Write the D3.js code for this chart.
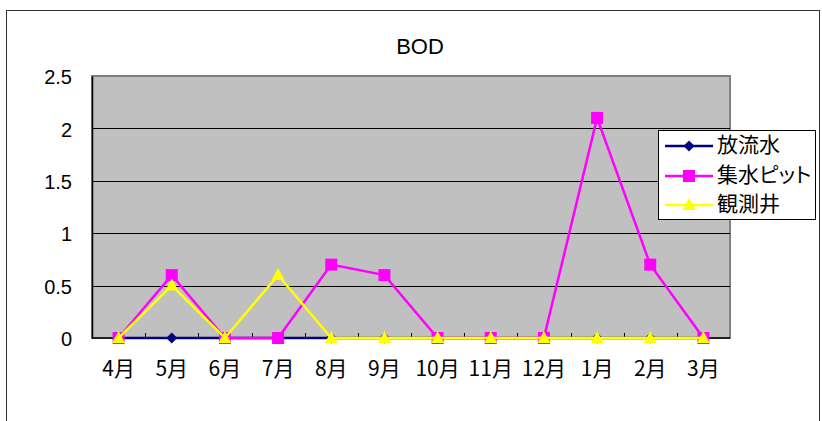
<!DOCTYPE html>
<html><head><meta charset="utf-8">
<script src="https://cdn.jsdelivr.net/npm/d3@7"></script>
<style>
html,body{margin:0;padding:0;background:#fff;}
svg{display:block;}
text{font-family:"Noto Sans CJK JP","Liberation Sans",sans-serif;fill:#000;}
.lgtext{font-feature-settings:"palt";}
</style></head>
<body>
<svg id="c" width="822" height="421"></svg>
<script>
const categories = ["4月","5月","6月","7月","8月","9月","10月","11月","12月","1月","2月","3月"];
const seriesNames = ["放流水","集水ピット","観測井"];
const houryusui = [0,0,0,0,0,0,0,0,0,0,0,0];
const shusuiPit = [0,0.6,0,0,0.7,0.6,0,0,0,2.1,0.7,0];
const kansokuSei = [0,0.5,0,0.6,0,0,0,0,0,0,0,0];
const yTicks = [0,0.5,1,1.5,2,2.5];
const titleText = "BOD";

const series = [
  {name: seriesNames[0], values: houryusui, color: "#000080", marker: "diamond"},
  {name: seriesNames[1], values: shusuiPit, color: "#ff00ff", marker: "square"},
  {name: seriesNames[2], values: kansokuSei, color: "#ffff00", marker: "triangle"}
];

const svg = d3.select("#c");
const L = 92, R = 730, T = 76, B = 338;

// outer chart border
svg.append("rect").attr("x",6.5).attr("y",10.5).attr("width",813).attr("height",440)
  .attr("fill","#fff").attr("stroke","#333").attr("stroke-width",1);

const x = d3.scaleBand().domain(categories).range([L,R]).paddingInner(0).paddingOuter(0);
const y = d3.scaleLinear().domain([0,2.5]).range([B,T]);

// plot area
svg.append("rect").attr("x",L).attr("y",T).attr("width",R-L).attr("height",B-T)
  .attr("fill","#c0c0c0").attr("stroke","#808080").attr("stroke-width",2);

// gridlines
svg.append("g").selectAll("line").data(yTicks.filter(d=>d>0 && d<2.5)).join("line")
  .attr("x1",L).attr("x2",R).attr("y1",d=>Math.round(y(d))+0.5).attr("y2",d=>Math.round(y(d))+0.5)
  .attr("stroke","#000").attr("stroke-width",1);

// y axis
const yAxis = svg.append("g").attr("transform",`translate(${L},0)`)
  .call(d3.axisLeft(y).tickValues(yTicks).tickSize(0).tickPadding(20).tickFormat(d=>d));
yAxis.select(".domain").attr("stroke","#000").attr("stroke-width",1.5);
yAxis.selectAll("text").style("font-size","20px").attr("dy","0.38em")
  .style("font-family","'Liberation Sans','Noto Sans CJK JP',sans-serif");

// x axis line
svg.append("line").attr("x1",L).attr("x2",R).attr("y1",B).attr("y2",B)
  .attr("stroke","#000").attr("stroke-width",1.5);
// x ticks (inside, between categories)
svg.append("g").selectAll("line").data(categories.slice(1)).join("line")
  .attr("x1",d=>Math.round(x(d))+0.5).attr("x2",d=>Math.round(x(d))+0.5)
  .attr("y1",B).attr("y2",B-5).attr("stroke","#000").attr("stroke-width",1);
// x labels
svg.append("g").selectAll("text").data(categories).join("text")
  .attr("x",d=>x(d)+x.bandwidth()/2).attr("y",B+38)
  .attr("text-anchor","middle").style("font-size","21px").text(d=>d);

// title
svg.append("text").attr("x",420).attr("y",54).attr("text-anchor","middle")
  .style("font-size","22px").style("font-family","'Liberation Sans',sans-serif").text(titleText);

function drawMarker(g, type, cx, cy, color){
  if(type==="diamond"){
    g.append("path").attr("d",`M${cx},${cy-5.5}L${cx+5.5},${cy}L${cx},${cy+5.5}L${cx-5.5},${cy}Z`).attr("fill",color);
  } else if(type==="square"){
    g.append("rect").attr("x",cx-6).attr("y",cy-6).attr("width",12).attr("height",12).attr("fill",color);
  } else {
    g.append("path").attr("d",`M${cx},${cy-7}L${cx+6.5},${cy+5}L${cx-6.5},${cy+5}Z`).attr("fill",color);
  }
}

const line = d3.line().x((d,i)=>x(categories[i])+x.bandwidth()/2).y(d=>y(d));
series.forEach(s=>{
  const g = svg.append("g");
  g.append("path").datum(s.values).attr("d",line).attr("fill","none")
    .attr("stroke",s.color).attr("stroke-width",2.5).attr("stroke-linejoin","miter");
  s.values.forEach((v,i)=>drawMarker(g, s.marker, x(categories[i])+x.bandwidth()/2, y(v), s.color));
});

// legend
const lg = svg.append("g");
lg.append("rect").attr("x",658.5).attr("y",130.5).attr("width",157).attr("height",89)
  .attr("fill","#fff").attr("stroke","#000").attr("stroke-width",1);
const rowsY = [146,176,205];
series.forEach((s,i)=>{
  lg.append("line").attr("x1",665).attr("x2",713).attr("y1",rowsY[i]).attr("y2",rowsY[i])
    .attr("stroke",s.color).attr("stroke-width",2.5);
  drawMarker(lg, s.marker, 689, rowsY[i], s.color);
  lg.append("text").attr("class","lgtext").attr("x",717).attr("y",rowsY[i]+6)
    .style("font-size","21px").text(s.name);
});
</script>
</body></html>
